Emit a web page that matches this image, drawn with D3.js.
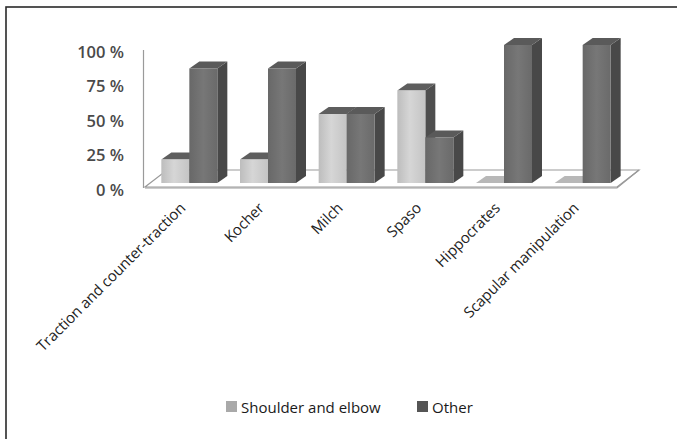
<!DOCTYPE html>
<html>
<head>
<meta charset="utf-8">
<script src="https://cdn.jsdelivr.net/npm/d3@7"></script>
<style>
  html, body { margin: 0; padding: 0; background: #fff; }
  svg { display: block; }
</style>
</head>
<body>
<svg id="chart" width="677" height="439"></svg>
<script>
// Reduction techniques and share of each outcome (percent)
const categories = ["Traction and counter-traction", "Kocher", "Milch", "Spaso", "Hippocrates", "Scapular manipulation"];
const seriesNames = ["Shoulder and elbow", "Other"];
const shoulderElbow = [17, 17, 50, 67, 0, 0];
const other = [83, 83, 50, 33, 100, 100];
const yTicks = [0, 25, 50, 75, 100];

const svg = d3.select("#chart");
const font = "'Open Sans', 'Noto Sans', sans-serif";

// outer frame (only top and left edges fall inside the view)
svg.append("rect")
  .attr("x", 6).attr("y", 7).attr("width", 700).attr("height", 460)
  .attr("fill", "none").attr("stroke", "#2a2a2a").attr("stroke-width", 1.6);

// front plane of the floor
const floorLeft = 145, floorRight = 617, floorY = 187;
const floorDepth = { dx: 22, dy: -17 };
const barDepth = { dx: 10, dy: -7 };
const barShift = { dx: 5, dy: -4 };   // bars sit slightly back from the floor front

const x0 = d3.scaleBand().domain(categories).range([floorLeft, floorRight]);
const x1 = d3.scaleBand().domain(seriesNames).range([-28, 28]);
const y = d3.scaleLinear().domain([0, 100]).range([floorY + barShift.dy, floorY + barShift.dy - 138]);
const yLabel = y.copy().range([190, 52]);

// gradients for bar fronts
const defs = svg.append("defs");
function grad(id, stops) {
  const g = defs.append("linearGradient").attr("id", id).attr("x1", 0).attr("x2", 1).attr("y1", 0).attr("y2", 0);
  stops.forEach(([o, c]) => g.append("stop").attr("offset", o).attr("stop-color", c));
}
grad("gLight", [[0, "#bdbdbd"], [0.45, "#d6d6d6"], [1, "#c4c4c4"]]);
grad("gDark", [[0, "#686868"], [0.5, "#777777"], [1, "#6a6a6a"]]);

const palette = {
  "Shoulder and elbow": { front: "url(#gLight)", top: "#5e5e5e", flat: "#b8b8b8", side: "#4e4e4e", legend: "#a9a9a9" },
  "Other": { front: "url(#gDark)", top: "#5a5a5a", flat: "#5a5a5a", side: "#484848", legend: "#555555" }
};

// floor slab
const fl = svg.append("g").attr("fill", "#fff").attr("stroke", "#9a9a9a").attr("stroke-width", 1.2);
const th = 3;
fl.append("polygon").attr("points", [
  [floorLeft, floorY], [floorRight, floorY], [floorRight + floorDepth.dx, floorY + floorDepth.dy],
  [floorLeft + floorDepth.dx, floorY + floorDepth.dy]
].map(p => p.join(",")).join(" "));
fl.append("polyline").attr("fill", "none").attr("points", [
  [floorLeft, floorY + th - 2], [floorLeft, floorY + 1], [floorRight, floorY + 1],
  [floorRight + floorDepth.dx, floorY + floorDepth.dy]
].map(p => p.join(",")).join(" "));

// wall edge
svg.append("line").attr("x1", floorLeft - 1.5).attr("x2", floorLeft - 1.5)
  .attr("y1", 50).attr("y2", floorY + 1)
  .attr("stroke", "#9a9a9a").attr("stroke-width", 1.2);

// value labels
const yAxis = d3.axisLeft(yLabel).tickValues(yTicks).tickSize(0).tickPadding(0)
  .tickFormat(d => d + " %");
const ya = svg.append("g").attr("transform", "translate(124,0)").call(yAxis);
ya.select(".domain").remove();
ya.selectAll("text").attr("font-family", font).attr("font-size", 16.5).attr("font-weight", 600)
  .attr("fill", "#4a4a4a");

// bars
const rows = categories.map((c, i) => ({ cat: c, vals: [shoulderElbow[i], other[i]] }));
const bars = svg.append("g");
rows.forEach(r => {
  seriesNames.forEach((s, si) => {
    const v = r.vals[si];
    const col = palette[s];
    const xa = x0(r.cat) + x0.bandwidth() / 2 + barShift.dx + x1(s);
    const xb = xa + x1.bandwidth();
    const yt = y(v), yb = y(0);
    const g = bars.append("g");
    const pts = a => a.map(p => p.join(",")).join(" ");
    if (v > 0) {
      g.append("polygon").attr("fill", col.side).attr("points", pts([
        [xb, yt], [xb + barDepth.dx, yt + barDepth.dy], [xb + barDepth.dx, yb + barDepth.dy], [xb, yb]]));
      g.append("polygon").attr("fill", col.top).attr("points", pts([
        [xa, yt], [xa + barDepth.dx, yt + barDepth.dy], [xb + barDepth.dx, yt + barDepth.dy], [xb, yt]]));
      g.append("rect").attr("x", xa).attr("y", yt).attr("width", xb - xa).attr("height", yb - yt)
        .attr("fill", col.front);
    } else {
      g.append("polygon").attr("fill", col.flat).attr("points", pts([
        [xa, yt], [xa + barDepth.dx, yt + barDepth.dy], [xb + barDepth.dx, yt + barDepth.dy], [xb, yt]]));
    }
  });
});

// category labels
const cl = svg.append("g");
categories.forEach(c => {
  const cx = x0(c) + x0.bandwidth() / 2 + barShift.dx - 3;
  cl.append("text")
    .attr("transform", `translate(${cx},${209}) rotate(-45)`)
    .attr("text-anchor", "end")
    .attr("font-family", font).attr("font-size", 15).attr("letter-spacing", -0.1)
    .attr("fill", "#222")
    .text(c);
});

// legend
const legendItems = [
  { name: seriesNames[0], x: 226 },
  { name: seriesNames[1], x: 417 }
];
const lg = svg.append("g");
legendItems.forEach(it => {
  lg.append("rect").attr("x", it.x).attr("y", 401).attr("width", 11).attr("height", 11)
    .attr("fill", palette[it.name].legend);
  lg.append("text").attr("x", it.x + 15).attr("y", 412.5)
    .attr("font-family", font).attr("font-size", 15)
    .attr("fill", "#1a1a1a").text(it.name);
});
</script>
</body>
</html>
